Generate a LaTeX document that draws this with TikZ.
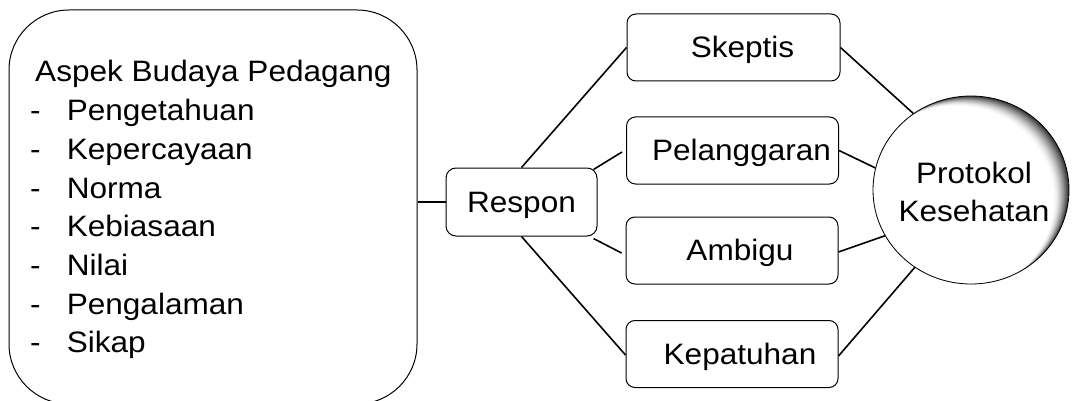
\documentclass[tikz,border=0pt]{standalone}
\usepackage{fontspec}
\setmainfont{Liberation Sans}[FakeStretch=1.07]
\usetikzlibrary{shapes.geometric,calc}
\newcommand\diagfont{\fontsize{29.5pt}{38.7pt}\selectfont}
\begin{document}
\begin{tikzpicture}[x=1pt,y=-1pt,
  boxstyle/.style={draw, line width=1pt, rounded corners=9pt, minimum width=212pt,
    minimum height=67pt, inner sep=0pt, text height=24pt, text depth=4pt, font=\diagfont},
  link/.style={line width=1.6pt},
  shadowcirc/.style={draw, line width=0.8pt, ellipse, minimum width=196pt, minimum height=188pt,
    inner sep=0pt, fill=white,
    path picture={
      \fill[black!80] (path picture bounding box.south west) rectangle (path picture bounding box.north east);
      \foreach \k in {1,...,18}{
        \pgfmathsetmacro\shd{80*(1-\k/18)^1.6}
        \fill[black!\shd] ([shift={(-0.85*\k,0.55*\k)}]path picture bounding box.center)
          ellipse [x radius=98pt, y radius=94pt];
      }
    }},
]
\useasboundingbox (0,0) rectangle (1075,401);

% left big box
\node[draw, line width=1pt, rounded corners=60pt, minimum width=408pt, minimum height=394pt,
  inner sep=0pt] (budaya) at (213,207) {};
\node[anchor=base west, inner sep=0pt, font=\diagfont] (budayatext) at (30,82)
  {\begin{tabular}[t]{@{}l@{}l@{}}
   \multicolumn{2}{@{}l@{}}{\hspace*{5pt}Aspek Budaya Pedagang}\\
   \makebox[36.6pt][l]{-} & Pengetahuan\\
   \makebox[36.6pt][l]{-} & Kepercayaan\\
   \makebox[36.6pt][l]{-} & Norma\\
   \makebox[36.6pt][l]{-} & Kebiasaan\\
   \makebox[36.6pt][l]{-} & Nilai\\
   \makebox[36.6pt][l]{-} & Pengalaman\\
   \makebox[36.6pt][l]{-} & Sikap
   \end{tabular}};

% middle
\node[boxstyle, minimum width=151pt, minimum height=68pt, rounded corners=10pt] (respon) at (521.5,202) {Respon};

\node[boxstyle, minimum width=213pt] (skeptis) at (733.5,47.5) {\hspace*{18pt}Skeptis};
\node[boxstyle] (pel) at (732.5,150.5) {\hspace*{18pt}Pelanggaran};
\node[boxstyle] (amb) at (732,250.5) {\hspace*{16pt}Ambigu};
\node[boxstyle] (kep) at (732,354) {\hspace*{16pt}Kepatuhan};

% circle
\node[shadowcirc] (prot) at (971,190) {};
\node[anchor=base, inner sep=0pt, font=\diagfont] (prottext) at (974,183)
  {\begin{tabular}[t]{@{}c@{}}Protokol\\Kesehatan\end{tabular}};

% connectors
\draw[link] (respon.west) -- (respon.west -| budaya.east);
\draw[link] (respon.north) -- (skeptis.west);
\draw[link] ([xshift=-4pt,yshift=-2pt]respon.north east) -- ([xshift=-4pt,yshift=-1.5pt]pel.west);
\draw[link] ([xshift=-4pt,yshift=-2pt]respon.south east) -- ([xshift=-4pt,yshift=-2.5pt]amb.west);
\draw[link] (respon.south) -- ([yshift=-1pt]kep.west);

\draw[link] (skeptis.east) -- (prot.127.5);
\draw[link] (pel.east) -- (prot.167);
\draw[link] ([yshift=-1.5pt]amb.east) -- (prot.208);
\draw[link] ([yshift=-2pt]kep.east) -- (prot.234);
\end{tikzpicture}
\end{document}
